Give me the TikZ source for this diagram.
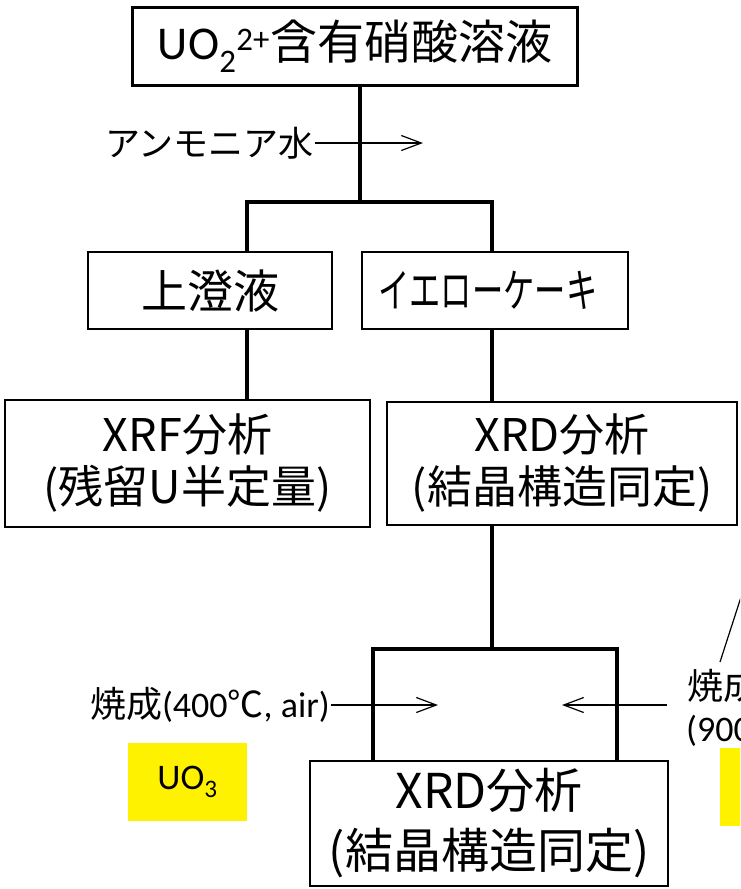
\documentclass[tikz,border=0pt]{standalone}
\usepackage{fontspec}
\usepackage{graphicx}
\setmainfont{Carlito}
\newfontfamily\jp{Noto Sans CJK JP}
\usetikzlibrary{arrows.meta}
\tikzset{
  box/.style={draw,line width=2.8pt,inner sep=0pt,align=center,fill=white},
  conn/.style={line width=3.2pt},
  arr/.style={line width=1.2pt,-{Straight Barb[length=20pt,width=15pt]}},
  thin/.style={line width=1.2pt},
  lbl/.style={inner sep=1pt},
  hl/.style={fill=yellow,inner sep=0pt}
}
\begin{document}
\begin{tikzpicture}[x=1pt,y=-1pt]
\useasboundingbox (0,0) rectangle (740,889);
\clip (0,0) rectangle (740,889);

% boxes
\node[box,minimum width=445pt,minimum height=78pt,font=\jp\fontsize{47}{50}\selectfont] (top) at (355,46.5)
  {{\rmfamily UO\textsubscript{2}\textsuperscript{2+}}含有硝酸溶液};
\node[box,minimum width=244pt,minimum height=77pt,font=\jp\fontsize{46}{50}\selectfont] (sumi) at (210,290.5) {上澄液};
\node[box,minimum width=266pt,minimum height=77pt,font=\jp\fontsize{46}{48}\selectfont] (yc) at (495,290.5) {\hspace*{-14pt}\scalebox{0.68}[1]{イエローケーキ}};
\node[box,minimum width=365pt,minimum height=127pt,font=\jp\fontsize{45}{52}\selectfont] (xrf) at (187.5,463.5) {XRF分析\\(残留U半定量)};
\node[box,minimum width=350pt,minimum height=123pt,font=\jp\fontsize{45}{52}\selectfont] (xrd1) at (562,463.5) {XRD分析\\(結晶構造同定)};
\node[box,minimum width=358pt,minimum height=125pt,font=\jp\fontsize{48}{60}\selectfont] (xrd2) at (489,823.5) {XRD分析\\(結晶構造同定)};

% highlighted products
\node[hl,minimum width=119pt,minimum height=78pt,font=\fontsize{36}{40}\selectfont] (uo3) at (187.5,782) {UO\textsubscript{3}};
\node[hl,minimum width=40pt,minimum height=78pt] (hl2) at (740,787) {};

% connectors
\coordinate (j1) at (360,202);
\coordinate (c1) at (247,202);
\coordinate (c2) at (492,202);
\draw[conn] (top.south -| j1) -- (j1);
\draw[conn] (sumi.north -| c1) -- (c1) -- (c2) -- (yc.north -| c2);
\draw[conn] (sumi.south -| c1) -- (xrf.north -| c1);
\draw[conn] (yc.south -| c2) -- (xrd1.north -| c2);
\coordinate (c3) at (492,649);
\coordinate (c4) at (373,649);
\coordinate (c5) at (617,649);
\draw[conn] (xrd1.south -| c3) -- (c3);
\draw[conn] (xrd2.north -| c4) -- (c4) -- (c5) -- (xrd2.north -| c5);

% reagent / process arrows
\node[lbl,anchor=east,font=\jp\fontsize{35}{38}\selectfont] (amm) at (315,143) {アンモニア水};
\coordinate (a1) at (423,143);
\draw[arr] (amm.east) -- (a1);

\node[lbl,anchor=east,font=\fontsize{36}{40}\selectfont] (calc1) at (331,705) {{\jp 焼成}(400{\jp ℃}, air)};
\coordinate (a2) at (438,705);
\draw[arr] (calc1.east) -- (a2);

\node[lbl,anchor=west,font=\jp\fontsize{36}{40}\selectfont] (calc2) at (686,686) {焼成};
\node[lbl,anchor=west,font=\fontsize{36}{40}\selectfont] (temp2) at (685,731) {(900};
\coordinate (a3s) at (667,705);
\coordinate (a3) at (562,705);
\draw[arr] (a3s) -- (a3);
\coordinate (d1) at (742,594);
\coordinate (d2) at (720,662);
\draw[thin] (d1) -- (d2);
\end{tikzpicture}
\end{document}
